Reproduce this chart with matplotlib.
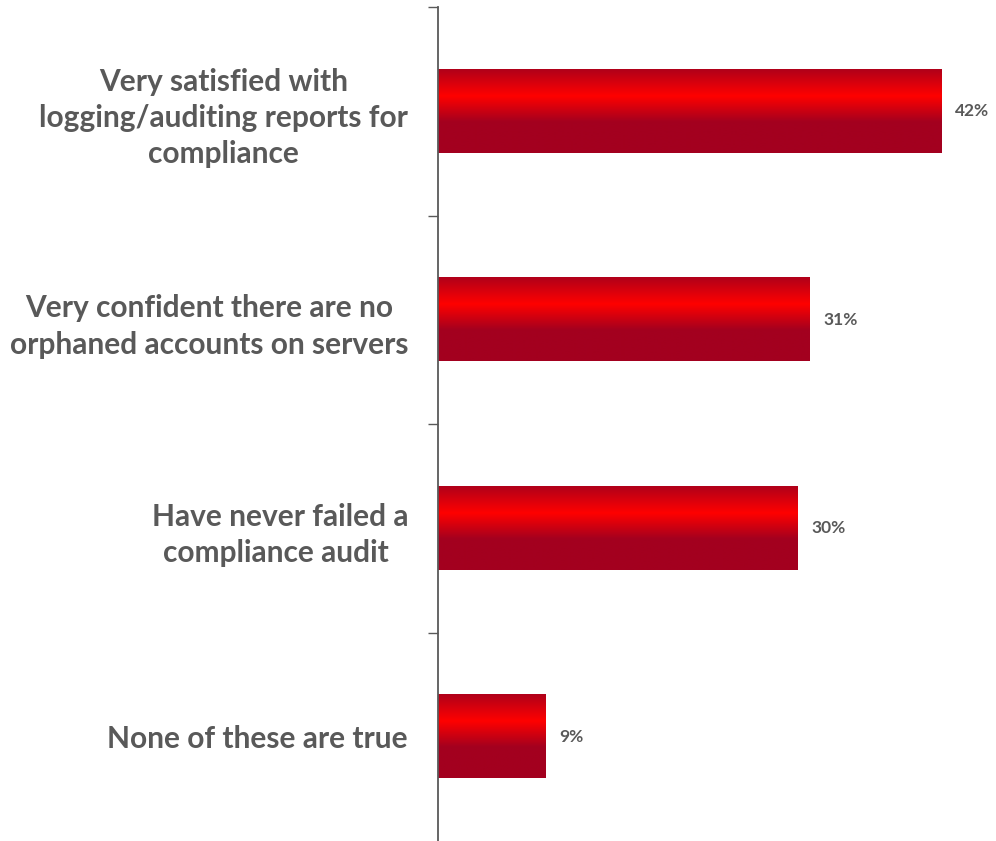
import matplotlib
matplotlib.use("Agg")
import matplotlib.pyplot as plt
import numpy as np
from matplotlib.colors import LinearSegmentedColormap

categories = [
    "Very satisfied with\nlogging/auditing reports for\ncompliance",
    "Very confident there are no\norphaned accounts on servers",
    "Have never failed a\ncompliance audit ",
    "None of these are true",
]
values = [42, 31, 30, 9]
value_labels = ["42%", "31%", "30%", "9%"]

TEXT = "#595959"
plt.rcParams['font.family'] = ['Lato', 'DejaVu Sans']

fig = plt.figure(figsize=(9.96, 8.41), dpi=100)
ax = fig.add_axes([438/996, 1 - 841/841, 551/996, (841 - 7)/841])

n = len(categories)
pos = np.arange(n)
bars = ax.barh(pos, values, height=0.40, color="none", edgecolor="none")

cmap = LinearSegmentedColormap.from_list(
    "grad",
    [(0.0, "#B0001A"), (0.32, "#FF0000"), (0.63, "#A3001F"), (1.0, "#A3001F")])
grad = np.linspace(0, 1, 256).reshape(-1, 1)
for b in bars:
    x0, y0, w, h = b.get_x(), b.get_y(), b.get_width(), b.get_height()
    ax.imshow(grad, cmap=cmap, aspect="auto", interpolation="bilinear",
              extent=(x0, x0 + w, y0 + h, y0), zorder=2)
ax.set_ylim(n - 0.5, -0.5)
ax.set_xlim(0, 46)

for b, lab in zip(bars, value_labels):
    ax.annotate(lab, (b.get_width(), b.get_y() + b.get_height() / 2),
                xytext=(10, 0), textcoords="offset points",
                ha="left", va="center", fontsize=12.5, fontweight="bold", color=TEXT)

for s in ["top", "right", "bottom"]:
    ax.spines[s].set_visible(False)
ax.spines["left"].set_color("#595959")
ax.spines["left"].set_linewidth(1.3)
ax.set_xticks([])
ax.set_yticks(pos)
ax.set_yticklabels(categories, fontsize=21.5, fontweight="bold", color=TEXT,
                   multialignment="center", linespacing=1.36)
ax.tick_params(axis="y", which="major", length=0, pad=21.6)
ax.set_yticks(np.arange(-0.5, n - 1, 1.0), minor=True)
ax.tick_params(axis="y", which="minor", length=7, width=1.0, color="#595959", direction="out")

fig.savefig("out.png", dpi=100)
